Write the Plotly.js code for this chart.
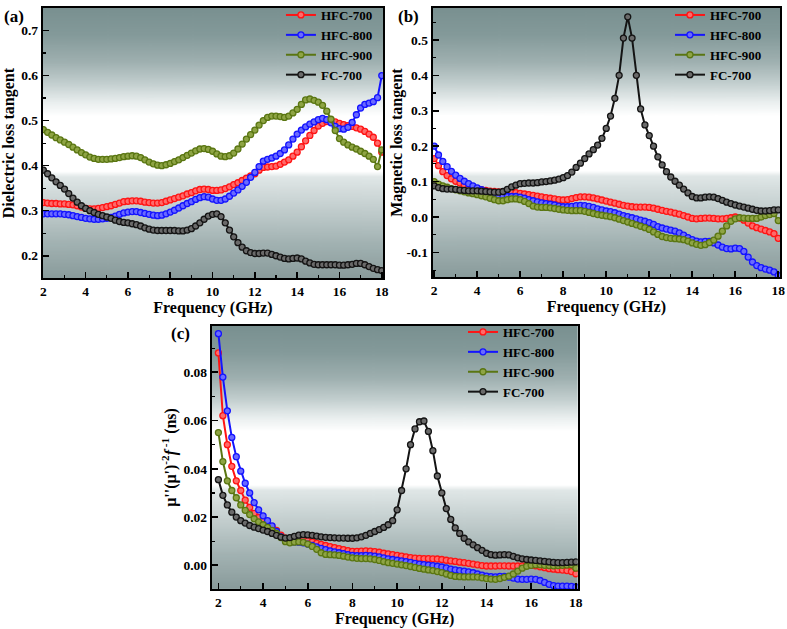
<!DOCTYPE html>
<html><head><meta charset="utf-8">
<script src="https://cdn.plot.ly/plotly-3.0.1.min.js"></script>
<style>html,body{margin:0;padding:0;background:#fff}#chart{width:787px;height:629px}</style>
</head><body><div id="chart"></div>
<script>
const seriesNames = ['HFC-700','HFC-800','HFC-900','FC-700'];
const freq = [2.0,2.2,2.4,2.6,2.8,3.0,3.2,3.4,3.6,3.8,
4.0,4.2,4.4,4.6,4.8,5.0,5.2,5.4,5.6,5.8,
6.0,6.2,6.4,6.6,6.8,7.0,7.2,7.4,7.6,7.8,
8.0,8.2,8.4,8.6,8.8,9.0,9.2,9.4,9.6,9.8,
10.0,10.2,10.4,10.6,10.8,11.0,11.2,11.4,11.6,11.8,
12.0,12.2,12.4,12.6,12.8,13.0,13.2,13.4,13.6,13.8,
14.0,14.2,14.4,14.6,14.8,15.0,15.2,15.4,15.6,15.8,
16.0,16.2,16.4,16.6,16.8,17.0,17.2,17.4,17.6,17.8,
18.0];

// (a) Dielectric loss tangent
const diel_HFC700 = [.318,.317,.316,.316,.315,.315,.314,.313,.311,.308,
.305,.304,.304,.305,.307,.309,.311,.314,.317,.320,
.321,.322,.322,.321,.319,.318,.317,.317,.318,.321,
.324,.327,.330,.333,.337,.340,.344,.347,.348,.347,
.345,.345,.346,.349,.353,.358,.362,.367,.372,.377,
.382,.390,.396,.397,.398,.399,.403,.408,.413,.421,
.430,.442,.455,.467,.478,.488,.494,.498,.499,.497,
.494,.491,.489,.487,.484,.481,.476,.470,.463,.450,
.430];
const diel_HFC800 = [.293,.293,.293,.293,.293,.292,.291,.289,.287,.285,
.283,.282,.281,.281,.282,.283,.285,.288,.292,.295,
.297,.298,.298,.296,.294,.292,.290,.289,.290,.293,
.297,.301,.306,.311,.316,.320,.325,.329,.331,.330,
.326,.323,.323,.326,.332,.339,.346,.354,.363,.374,
.385,.398,.410,.414,.417,.421,.427,.435,.446,.459,
.470,.479,.486,.492,.497,.502,.505,.502,.495,.487,
.482,.481,.485,.496,.513,.528,.536,.539,.542,.551,
.600];
const diel_HFC900 = [.480,.474,.468,.462,.457,.452,.447,.441,.435,.429,
.424,.419,.416,.414,.414,.414,.415,.416,.418,.420,
.421,.422,.421,.418,.413,.408,.404,.401,.400,.402,
.405,.409,.413,.418,.423,.428,.433,.437,.438,.436,
.432,.426,.421,.420,.422,.428,.437,.448,.459,.469,
.479,.490,.500,.507,.510,.510,.509,.507,.510,.517,
.525,.536,.546,.548,.545,.541,.534,.521,.503,.478,
.460,.452,.446,.441,.437,.432,.427,.421,.414,.398,
.435];
const diel_FC700 = [.390,.382,.373,.364,.356,.348,.338,.328,.319,.311,
.305,.300,.296,.292,.289,.286,.283,.279,.276,.274,
.273,.271,.269,.266,.262,.259,.257,.256,.256,.256,
.256,.256,.255,.255,.257,.260,.266,.273,.281,.288,
.292,.293,.287,.273,.257,.242,.229,.219,.211,.207,
.205,.205,.206,.206,.203,.200,.197,.194,.193,.194,
.195,.193,.188,.184,.181,.180,.180,.180,.180,.180,
.179,.179,.180,.181,.183,.183,.180,.176,.172,.169,
.167];

// (b) Magnetic loss tangent
const mag_HFC700 = [.165,.145,.128,.117,.108,.101,.096,.091,.087,.083,
.080,.077,.075,.073,.072,.071,.071,.071,.070,.069,
.067,.065,.063,.061,.059,.057,.055,.053,.051,.049,
.048,.049,.052,.055,.057,.057,.056,.054,.051,.048,
.045,.042,.039,.036,.033,.031,.029,.028,.028,.028,
.027,.025,.022,.019,.016,.014,.011,.008,.004,.000,
-.004,-.005,-.004,-.003,-.003,-.004,-.005,-.005,-.004,-.002,
.000,-.003,-.009,-.017,-.025,-.030,-.034,-.038,-.042,-.047,
-.060];
const mag_HFC800 = [.200,.175,.157,.142,.129,.118,.109,.101,.094,.088,
.082,.077,.072,.067,.063,.060,.058,.058,.058,.058,
.056,.053,.049,.046,.043,.040,.038,.036,.034,.031,
.029,.029,.030,.032,.033,.032,.030,.027,.023,.020,
.017,.015,.012,.008,.004,.001,-.002,-.005,-.009,-.012,
-.016,-.021,-.027,-.031,-.034,-.037,-.040,-.045,-.051,-.058,
-.064,-.068,-.070,-.069,-.069,-.073,-.079,-.085,-.089,-.090,
-.088,-.089,-.097,-.113,-.127,-.137,-.143,-.147,-.150,-.155,
-.165];
const mag_HFC900 = [.100,.093,.088,.084,.080,.077,.074,.071,.068,.066,
.063,.060,.057,.053,.049,.046,.046,.049,.051,.051,
.049,.044,.038,.031,.028,.027,.027,.026,.024,.022,
.020,.019,.018,.018,.018,.016,.013,.010,.007,.005,
.003,.001,-.002,-.006,-.010,-.014,-.018,-.022,-.026,-.030,
-.035,-.042,-.049,-.055,-.058,-.060,-.061,-.062,-.064,-.068,
-.073,-.077,-.080,-.078,-.072,-.065,-.054,-.040,-.025,-.012,
-.005,-.002,-.003,-.004,-.004,-.004,.000,.004,.007,.010,
-.010];
const mag_FC700 = [.088,.083,.080,.079,.079,.078,.076,.075,.074,.074,
.074,.073,.072,.071,.070,.070,.072,.078,.085,.090,
.094,.095,.096,.096,.097,.099,.100,.102,.104,.107,
.111,.117,.127,.140,.152,.165,.178,.190,.203,.222,
.250,.285,.335,.400,.505,.565,.505,.400,.305,.260,
.230,.200,.170,.147,.128,.113,.101,.090,.079,.068,
.058,.054,.054,.056,.057,.056,.052,.047,.042,.038,
.034,.031,.028,.025,.022,.019,.017,.017,.018,.020,
.020];

// (c) mu''(mu')^-2 f^-1 (ns)
const c0_HFC700 = [.088,.062,.050,.041,.035,.031,.027,.024,.0215,.0198,
.0185,.0172,.016,.0145,.0125,.0112,.0106,.0104,.0105,.0105,
.0102,.0097,.0092,.0087,.0082,.0077,.0073,.0069,.0065,.0061,
.0058,.0058,.0059,.0060,.0059,.0057,.0054,.0050,.0047,.0044,
.0041,.0038,.0035,.0032,.0030,.0029,.0028,.0028,.0027,.0026,
.0024,.0021,.0018,.0016,.0013,.0011,.0008,.0005,.0002,-.0001,
-.0003,-.0003,-.0003,-.0002,-.0002,-.0003,-.0003,-.0003,-.0002,.0000,
.0000,-.0002,-.0006,-.0010,-.0014,-.0016,-.0018,-.0020,-.0022,-.0026,
-.0035];
const c0_HFC800 = [.096,.078,.064,.053,.045,.039,.034,.030,.026,.023,
.0205,.0185,.0163,.014,.0118,.0103,.0098,.0097,.0096,.0093,
.0088,.0082,.0076,.0070,.0065,.0060,.0056,.0052,.0048,.0044,
.0041,.0040,.0040,.0041,.0040,.0038,.0035,.0031,.0027,.0024,
.0021,.0018,.0015,.0012,.0008,.0005,.0003,.0001,-.0001,-.0004,
-.0007,-.0011,-.0016,-.0019,-.0022,-.0024,-.0027,-.0031,-.0036,-.0041,
-.0045,-.0047,-.0048,-.0046,-.0046,-.0049,-.0053,-.0057,-.0058,-.0058,
-.0057,-.0058,-.0063,-.0071,-.0079,-.0084,-.0086,-.0086,-.0086,-.0087,
-.0090];
const c0_HFC900 = [.055,.043,.035,.031,.028,.025,.0228,.021,.0193,.018,
.0168,.0157,.0145,.0132,.0115,.0098,.0093,.0096,.0097,.0095,
.0088,.0078,.0066,.0052,.0045,.0044,.0043,.0041,.0038,.0034,
.0031,.0029,.0028,.0028,.0027,.0024,.0020,.0015,.0011,.0008,
.0005,.0002,-.0001,-.0005,-.0009,-.0013,-.0016,-.0019,-.0022,-.0026,
-.0030,-.0036,-.0042,-.0046,-.0047,-.0048,-.0048,-.0048,-.0049,-.0052,
-.0055,-.0057,-.0058,-.0055,-.0050,-.0045,-.0036,-.0024,-.0012,-.0004,
.0000,.0002,.0002,.0000,-.0001,-.0002,-.0001,.0000,.0001,.0002,
-.0012];
const c0_FC700 = [.0355,.029,.025,.022,.020,.0185,.0175,.0165,.0158,.0152,
.0146,.014,.0132,.0124,.0117,.0113,.0115,.012,.0125,.0127,
.0126,.0124,.0121,.0118,.0116,.0115,.0114,.0113,.0113,.0112,
.0112,.0114,.0118,.0124,.0132,.0140,.0148,.0157,.0168,.0185,
.023,.031,.040,.050,.0565,.0595,.0598,.0555,.0475,.037,
.030,.0235,.019,.0155,.0132,.0112,.0097,.0085,.0073,.0062,
.0050,.0044,.0042,.0043,.0044,.0043,.0037,.0031,.0027,.0024,
.0022,.0020,.0018,.0016,.0014,.0012,.0011,.0011,.0012,.0013,
.0014];

const xTicks = [2,4,6,8,10,12,14,16,18];
const yTicksA = [0.2,0.3,0.4,0.5,0.6,0.7];
const yTicksB = [-0.1,0,0.1,0.2,0.3,0.4,0.5];
const yTickTextB = ['-0.1','0.0','0.1','0.2','0.3','0.4','0.5'];
const yTicksC = [0,0.02,0.04,0.06,0.08];

const lineColors = ['#ff1414','#1414ff','#5a7612','#141414'];
const fillColors = ['#ff6a6a','#6a6aff','#8ea444','#6a6a6a'];

const FAM = '"Liberation Serif", "Times New Roman", Times, serif';
const tickFont = {family:FAM, size:13.5, color:'#000', weight:'bold'};
const titleFont = {family:FAM, size:16, color:'#000', weight:'bold'};

const panels = [
  {xa:'x', ya:'y', lg:'legend', ys:[diel_HFC700,diel_HFC800,diel_HFC900,diel_FC700]},
  {xa:'x2', ya:'y2', lg:'legend2', ys:[mag_HFC700,mag_HFC800,mag_HFC900,mag_FC700]},
  {xa:'x3', ya:'y3', lg:'legend3', ys:[c0_HFC700,c0_HFC800,c0_HFC900,c0_FC700]}
];
const traces = [];
panels.forEach(p => {
  p.ys.forEach((ys, i) => {
    traces.push({
      type:'scatter', mode:'lines+markers', x:freq, y:ys, name:seriesNames[i],
      xaxis:p.xa, yaxis:p.ya, legend:p.lg,
      line:{color:lineColors[i], width:2},
      marker:{symbol:'circle', size:6, color:fillColors[i], line:{color:lineColors[i], width:1.3}}
    });
  });
});

function xAxis(domain, range, anchor){
  return {domain, range, anchor, tickvals:xTicks, ticks:'inside', ticklen:6, tickwidth:1.6, tickcolor:'#000',
    minor:{dtick:1, tick0:2, ticks:'inside', ticklen:3, tickwidth:1.2, tickcolor:'#000', showgrid:false},
    showline:true, linewidth:2, linecolor:'#000', mirror:true, showgrid:false, zeroline:false,
    tickfont:tickFont, title:{text:'Frequency (GHz)', font:titleFont, standoff:3}};
}
function yAxis(domain, range, anchor, tickvals, ticktext, minorD, title, fmt, standoff){
  const a = {domain, range, anchor, tickvals, ticks:'inside', ticklen:6, tickwidth:1.6, tickcolor:'#000',
    minor:{dtick:minorD, tick0:tickvals[0], ticks:'inside', ticklen:3, tickwidth:1.2, tickcolor:'#000', showgrid:false},
    showline:true, linewidth:2, linecolor:'#000', mirror:true, showgrid:false, zeroline:false,
    tickfont:tickFont, title:{text:title, font:titleFont, standoff:standoff}};
  if (ticktext) a.ticktext = ticktext; else a.tickformat = fmt;
  return a;
}

const dA = {x:[0.0543,0.4867], y:[0.5612,0.9936]};
const dB = {x:[0.5498,0.9911], y:[0.5628,0.9936]};
const dC = {x:[0.269,0.734], y:[0.0641,0.4849]};

function makeGradient(){
  const c = document.createElement('canvas'); c.width = 8; c.height = 400;
  const g = c.getContext('2d');
  const lg = g.createLinearGradient(0,0,0,400);
  lg.addColorStop(0.00,'#799090');
  lg.addColorStop(0.10,'#849a9a');
  lg.addColorStop(0.20,'#9fb0b0');
  lg.addColorStop(0.28,'#c3cfcf');
  lg.addColorStop(0.35,'#eaefef');
  lg.addColorStop(0.40,'#ffffff');
  lg.addColorStop(0.605,'#ffffff');
  lg.addColorStop(0.625,'#e0e7e7');
  lg.addColorStop(0.74,'#c3cece');
  lg.addColorStop(0.87,'#a2b2b2');
  lg.addColorStop(1.00,'#899b9b');
  g.fillStyle = lg; g.fillRect(0,0,8,400);
  return c.toDataURL();
}
const grad = makeGradient();
const bgImg = d => ({source:grad, xref:'paper', yref:'paper', x:d.x[0], y:d.y[1],
  sizex:d.x[1]-d.x[0], sizey:d.y[1]-d.y[0], sizing:'stretch', xanchor:'left', yanchor:'top', layer:'below'});

const legendBase = {font:{family:FAM, size:13, color:'#000', weight:'bold'}, bgcolor:'rgba(0,0,0,0)',
  borderwidth:0, xanchor:'left', yanchor:'top', tracegroupgap:0, itemwidth:30};

const labFont = {family:FAM, size:17, color:'#000', weight:'bold'};
const layout = {
  width:787, height:629, margin:{l:0,r:0,t:0,b:0},
  paper_bgcolor:'#ffffff', plot_bgcolor:'rgba(0,0,0,0)',
  font:{family:FAM, color:'#000'},
  showlegend:true,
  xaxis: xAxis(dA.x, [1.97,18.06], 'y'),
  yaxis: yAxis(dA.y, [0.15,0.75], 'x', yTicksA, null, 0.05, 'Dielectric loss tangent', '.1f', 3),
  xaxis2: xAxis(dB.x, [1.93,18.08], 'y2'),
  yaxis2: yAxis(dB.y, [-0.17,0.59], 'x2', yTicksB, yTickTextB, 0.05, 'Magnetic loss tangent', null, 0),
  xaxis3: xAxis(dC.x, [1.70,18.08], 'y3'),
  yaxis3: yAxis(dC.y, [-0.0098,0.0992], 'x3', yTicksC, null, 0.01, "μ''(μ')<sup>-2</sup><i>f</i><sup> -1</sup> (ns)", '.2f', 3),
  legend: Object.assign({x:0.357, y:1.0064}, legendBase),
  legend2: Object.assign({x:0.8513, y:1.0064}, legendBase),
  legend3: Object.assign({x:0.5883, y:0.4992}, legendBase),
  images:[bgImg(dA), bgImg(dB), bgImg(dC)],
  annotations:[
    {text:'(a)', xref:'paper', yref:'paper', x:2/787, y:1-13/629, xanchor:'left', yanchor:'middle', showarrow:false, font:labFont},
    {text:'(b)', xref:'paper', yref:'paper', x:396/787, y:1-13/629, xanchor:'left', yanchor:'middle', showarrow:false, font:labFont},
    {text:'(c)', xref:'paper', yref:'paper', x:169/787, y:1-332/629, xanchor:'left', yanchor:'middle', showarrow:false, font:labFont}
  ]
};
Plotly.newPlot('chart', traces, layout, {displayModeBar:false, staticPlot:true});
</script>
</body></html>
